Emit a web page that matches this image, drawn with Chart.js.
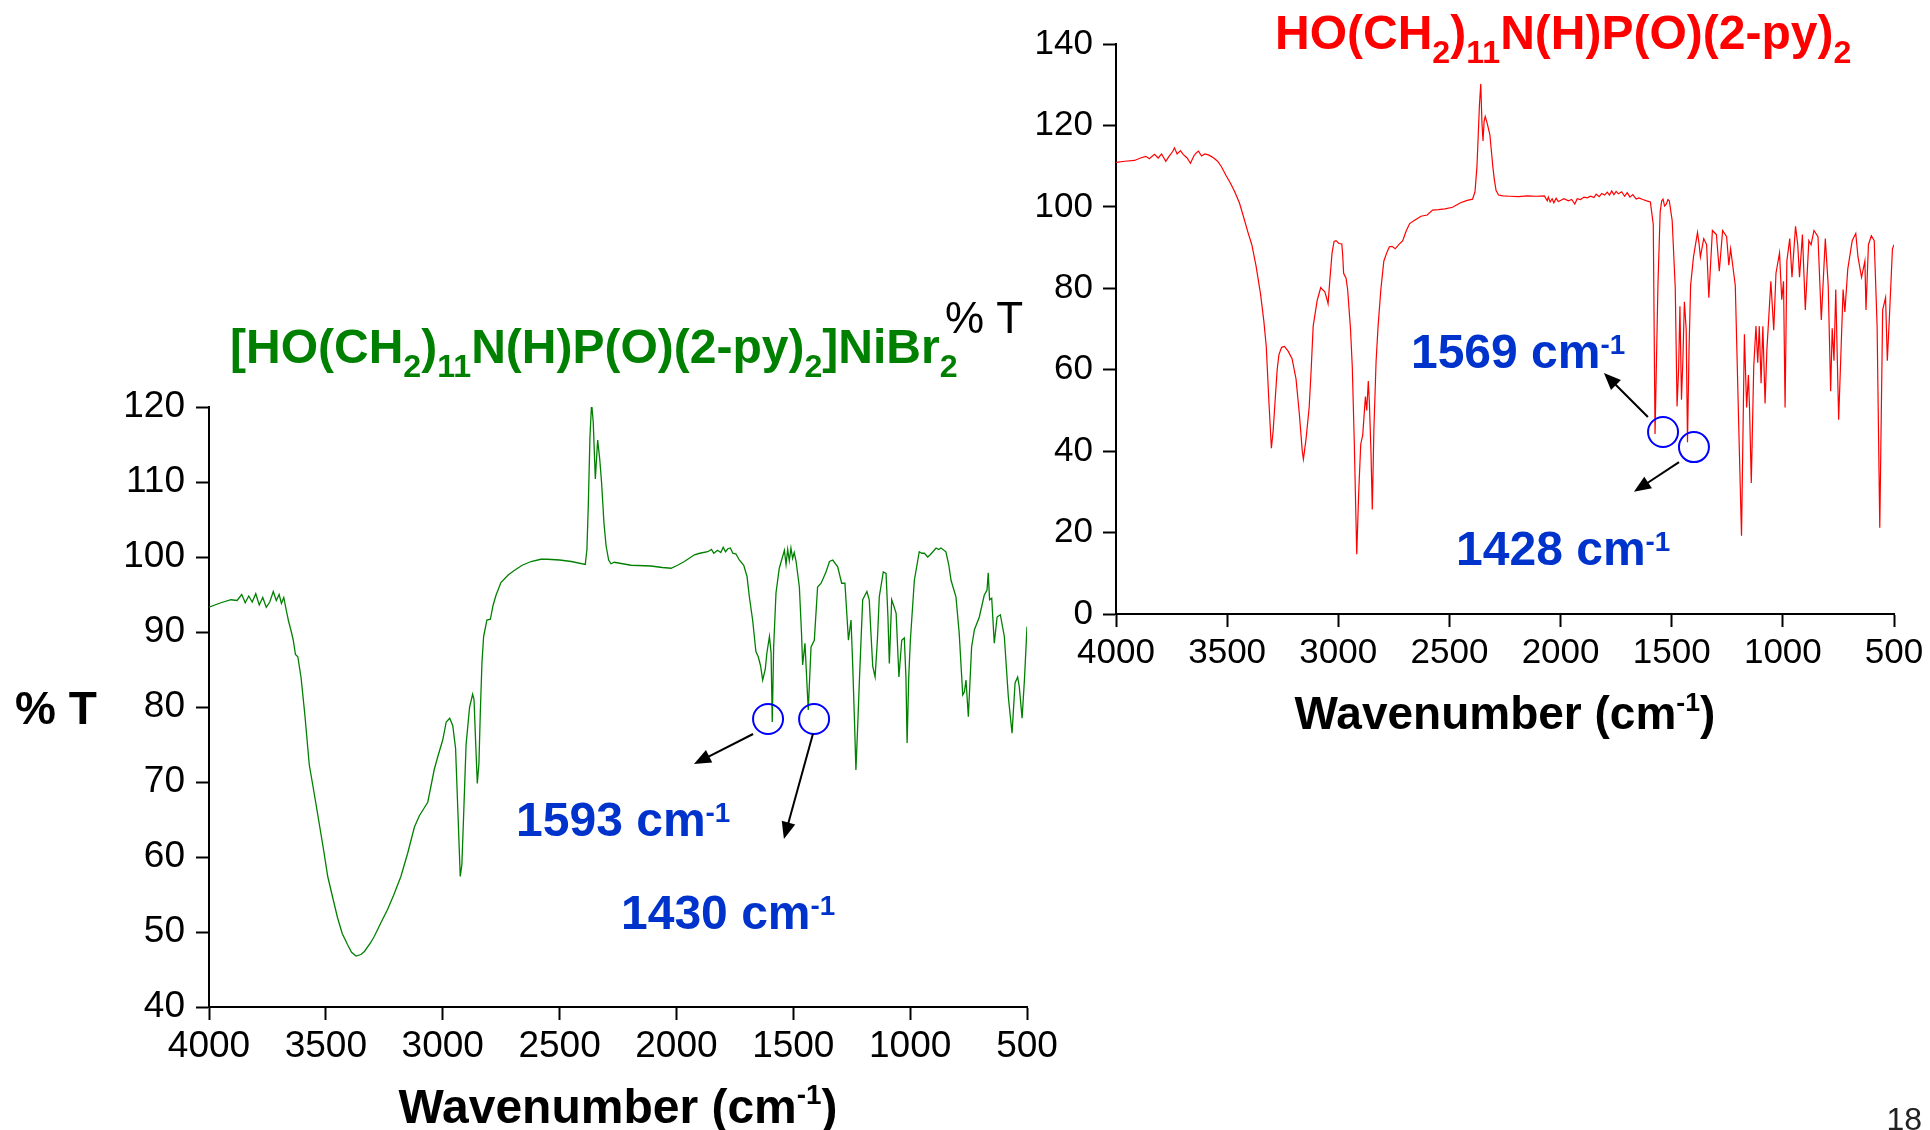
<!DOCTYPE html>
<html>
<head>
<meta charset="utf-8">
<script src="https://cdn.jsdelivr.net/npm/chart.js@4.4.0/dist/chart.umd.min.js"></script>
<style>
html, body { margin: 0; padding: 0; background: #fff; }
#wrap { position: relative; width: 1930px; height: 1130px; overflow: hidden; }
canvas { position: absolute; left: 0; top: 0; }
</style>
</head>
<body>
<div id="wrap">
<canvas id="complexChart" width="1930" height="1130"></canvas>
<canvas id="ligandChart" width="1930" height="1130"></canvas>
</div>
<script>
var FONT = '"Liberation Sans", Arial, sans-serif';

// tick values
var xTickValues = [4000, 3500, 3000, 2500, 2000, 1500, 1000, 500];
var complexYTicks = [40, 50, 60, 70, 80, 90, 100, 110, 120];
var ligandYTicks = [0, 20, 40, 60, 80, 100, 120, 140];

// [HO(CH2)11N(H)P(O)(2-py)2]NiBr2  -  [wavenumber, %T]
var complexSpectrum = [
  [4000, 93.3], [3949, 93.9], [3906, 94.3], [3880, 94.2], [3860, 95.0], [3845, 93.9],
  [3830, 94.8], [3815, 94.0], [3800, 95.1], [3785, 93.6], [3770, 94.6], [3755, 93.3],
  [3740, 94.0], [3725, 95.4], [3712, 94.2], [3700, 95.0], [3690, 93.8], [3680, 94.6],
  [3670, 93.0], [3660, 91.5], [3650, 90.3], [3640, 89.0], [3630, 87.0], [3620, 86.7],
  [3606, 83.9], [3590, 79.0], [3571, 72.3], [3550, 68.5], [3535, 65.7], [3510, 61.0],
  [3492, 57.4], [3470, 54.5], [3450, 51.9], [3430, 49.8], [3407, 48.3], [3390, 47.3],
  [3371, 46.8], [3350, 47.0], [3335, 47.4], [3310, 48.5], [3293, 49.4], [3265, 51.2],
  [3236, 53.0], [3210, 54.9], [3179, 57.4], [3150, 60.5], [3121, 64.0], [3100, 65.5],
  [3080, 66.5], [3064, 67.3], [3050, 69.5], [3036, 71.7], [3020, 73.5], [3000, 75.6],
  [2985, 78.0], [2970, 78.5], [2957, 77.5], [2945, 74.5], [2935, 66.0], [2925, 57.4],
  [2918, 59.0], [2910, 66.0], [2900, 75.0], [2885, 80.0], [2872, 81.7], [2866, 81.0],
  [2860, 76.0], [2852, 69.8], [2845, 72.5], [2839, 79.4], [2832, 86.0], [2825, 89.4],
  [2811, 91.6], [2796, 91.7], [2785, 93.5], [2772, 94.9], [2751, 96.6], [2720, 97.6],
  [2694, 98.2], [2660, 98.9], [2622, 99.4], [2580, 99.7], [2551, 99.7], [2500, 99.6],
  [2450, 99.4], [2390, 99.0], [2383, 101.0], [2377, 107.0], [2370, 116.0], [2363, 120.5],
  [2356, 118.0], [2347, 110.4], [2337, 115.6], [2328, 113.0], [2320, 109.8], [2310, 104.5],
  [2301, 101.5], [2290, 99.6], [2280, 99.1], [2266, 99.3], [2194, 98.9], [2109, 98.8],
  [2060, 98.6], [2023, 98.5], [1995, 98.9], [1966, 99.4], [1923, 100.3], [1900, 100.5],
  [1866, 100.7], [1850, 101.0], [1840, 100.5], [1824, 100.9], [1810, 100.6], [1800, 101.3],
  [1790, 100.7], [1780, 101.1], [1769, 101.2], [1759, 100.5], [1745, 100.4], [1731, 99.6],
  [1712, 98.9], [1698, 97.4], [1688, 94.7], [1674, 91.6], [1660, 87.4], [1650, 86.7],
  [1640, 85.5], [1631, 83.6], [1620, 85.0], [1613, 87.2], [1602, 89.4], [1595, 87.2],
  [1590, 78.0], [1584, 88.0], [1574, 95.2], [1560, 98.5], [1548, 99.8], [1538, 100.9],
  [1531, 99.0], [1524, 101.0], [1517, 99.5], [1510, 101.2], [1503, 99.8], [1496, 100.6],
  [1488, 99.4], [1474, 96.0], [1465, 90.0], [1460, 85.6], [1450, 88.5], [1436, 79.6],
  [1424, 88.0], [1410, 88.9], [1396, 96.0], [1381, 96.5], [1360, 98.0], [1345, 99.4],
  [1331, 99.6], [1310, 98.7], [1293, 96.5], [1279, 96.5], [1264, 88.9], [1253, 91.6],
  [1246, 85.8], [1238, 78.0], [1232, 71.6], [1225, 77.0], [1217, 83.6], [1210, 89.0],
  [1203, 94.3], [1185, 95.4], [1175, 94.3], [1168, 90.0], [1160, 85.4], [1150, 84.0],
  [1140, 89.0], [1132, 94.7], [1115, 98.0], [1103, 97.8], [1095, 92.0], [1089, 85.8],
  [1079, 94.3], [1070, 93.5], [1060, 92.5], [1048, 84.0], [1036, 88.9], [1025, 89.2],
  [1018, 84.0], [1013, 75.2], [1006, 84.0], [999, 88.9], [982, 96.9], [961, 100.7],
  [950, 100.5], [939, 100.5], [925, 100.0], [914, 100.3], [900, 100.8], [889, 101.2],
  [878, 101.0], [868, 101.2], [847, 100.7], [835, 99.0], [825, 96.9], [804, 94.7],
  [790, 89.8], [775, 81.6], [768, 82.0], [761, 83.6], [751, 78.7], [737, 88.0],
  [725, 90.3], [704, 92.0], [683, 94.9], [671, 95.6], [666, 97.9], [660, 94.3],
  [651, 94.5], [640, 88.5], [628, 92.0], [614, 92.3], [597, 89.4], [580, 81.4],
  [564, 76.5], [551, 83.2], [540, 84.0], [533, 82.7], [521, 78.5], [511, 83.6],
  [500, 90.7]
];

// HO(CH2)11N(H)P(O)(2-py)2  -  [wavenumber, %T]
var ligandSpectrum = [
  [4000, 110.9], [3960, 111.2], [3917, 111.4], [3890, 112.0], [3866, 112.4], [3850, 111.8],
  [3827, 112.9], [3810, 112.0], [3795, 113.0], [3776, 111.2], [3760, 112.5], [3745, 113.6],
  [3737, 114.5], [3725, 113.0], [3710, 113.8], [3698, 112.9], [3680, 112.0], [3665, 110.7],
  [3650, 112.5], [3640, 113.2], [3629, 113.7], [3615, 112.5], [3600, 113.0], [3582, 112.7],
  [3560, 112.0], [3543, 111.2], [3525, 109.8], [3505, 107.7], [3485, 105.8], [3466, 103.7],
  [3445, 101.0], [3427, 97.7], [3405, 93.5], [3389, 90.7], [3370, 85.5], [3350, 78.7],
  [3335, 72.0], [3324, 65.7], [3312, 52.0], [3301, 40.7], [3293, 45.0], [3285, 51.7],
  [3275, 60.0], [3267, 63.7], [3255, 65.5], [3242, 65.7], [3225, 64.5], [3208, 62.7],
  [3190, 57.7], [3175, 49.0], [3162, 40.0], [3157, 38.0], [3145, 43.0], [3131, 50.7],
  [3122, 60.0], [3113, 70.7], [3095, 77.0], [3079, 80.2], [3068, 79.5], [3061, 79.2],
  [3052, 77.5], [3046, 76.2], [3038, 82.0], [3028, 88.7], [3019, 91.5], [3010, 91.7],
  [2997, 91.0], [2984, 90.9], [2980, 88.0], [2976, 83.7], [2965, 82.5], [2958, 79.7],
  [2945, 70.0], [2937, 60.7], [2928, 42.0], [2917, 14.7], [2908, 30.0], [2899, 41.7],
  [2890, 44.0], [2878, 53.4], [2872, 50.0], [2865, 57.2], [2860, 51.7], [2853, 40.0],
  [2847, 25.7], [2840, 45.0], [2830, 62.0], [2821, 70.7], [2808, 80.0], [2795, 86.7],
  [2780, 89.0], [2770, 90.2], [2758, 90.3], [2744, 89.7], [2730, 90.6], [2710, 91.7],
  [2695, 94.0], [2679, 95.9], [2655, 96.8], [2628, 97.7], [2600, 98.0], [2576, 99.2],
  [2550, 99.3], [2520, 99.5], [2486, 99.9], [2450, 101.0], [2420, 101.6], [2396, 101.9],
  [2385, 103.7], [2376, 110.0], [2365, 125.0], [2359, 130.2], [2354, 121.0], [2349, 116.2],
  [2344, 121.0], [2339, 122.2], [2330, 120.5], [2318, 117.7], [2305, 110.0], [2298, 106.7],
  [2290, 104.0], [2279, 102.9], [2260, 102.7], [2230, 102.6], [2189, 102.5], [2150, 102.7],
  [2110, 102.6], [2073, 102.7], [2060, 101.5], [2055, 102.4], [2047, 101.2], [2038, 102.0],
  [2030, 101.0], [2020, 102.1], [2010, 101.3], [1996, 101.7], [1985, 102.0], [1965, 101.5],
  [1950, 101.8], [1936, 100.7], [1925, 102.0], [1910, 101.8], [1895, 102.4], [1880, 102.2],
  [1865, 102.6], [1850, 102.3], [1840, 103.1], [1826, 102.5], [1815, 103.3], [1802, 102.9],
  [1790, 103.6], [1780, 102.9], [1770, 103.9], [1760, 103.0], [1750, 103.8], [1740, 103.2],
  [1725, 103.7], [1712, 102.6], [1700, 103.5], [1688, 102.4], [1675, 103.0], [1660, 101.9],
  [1648, 102.2], [1630, 101.8], [1609, 101.4], [1596, 101.2], [1583, 95.7], [1575, 44.2],
  [1562, 80.7], [1552, 98.7], [1545, 101.5], [1539, 101.9], [1532, 100.2], [1524, 100.7],
  [1517, 101.8], [1511, 101.5], [1498, 96.7], [1484, 80.0], [1476, 51.0], [1469, 60.0],
  [1463, 75.6], [1456, 52.6], [1450, 62.0], [1443, 76.7], [1435, 70.0], [1429, 42.2],
  [1422, 65.0], [1415, 80.7], [1402, 87.7], [1384, 93.7], [1377, 91.0], [1371, 87.7],
  [1356, 92.2], [1343, 90.7], [1333, 77.7], [1317, 94.2], [1299, 93.2], [1286, 84.2],
  [1271, 94.2], [1253, 92.7], [1243, 85.7], [1235, 89.7], [1214, 80.7], [1196, 40.7],
  [1186, 19.2], [1173, 68.7], [1163, 50.7], [1155, 58.7], [1150, 50.7], [1142, 32.2],
  [1131, 60.7], [1121, 70.7], [1113, 61.7], [1106, 70.7], [1098, 56.7], [1090, 70.7],
  [1080, 51.7], [1072, 64.7], [1054, 81.7], [1041, 69.7], [1031, 83.7], [1015, 88.7],
  [1005, 77.2], [997, 81.7], [990, 50.7], [982, 86.7], [969, 92.2], [959, 82.7],
  [943, 95.2], [933, 90.7], [925, 82.7], [912, 93.2], [899, 74.7], [883, 91.7],
  [873, 90.7], [860, 94.2], [842, 92.7], [827, 72.2], [809, 92.2], [796, 80.7],
  [785, 54.7], [778, 70.2], [770, 62.2], [762, 79.7], [749, 47.7], [739, 63.7],
  [729, 79.7], [721, 74.2], [708, 84.7], [688, 91.7], [672, 93.5], [662, 87.7],
  [646, 82.7], [631, 86.7], [626, 74.7], [615, 90.7], [602, 92.9], [589, 91.7],
  [576, 70.7], [564, 21.2], [551, 74.7], [538, 77.7], [530, 62.2], [520, 73.7],
  [507, 89.7], [500, 90.7]
];

// peak labels
var complexPeaks = ['1593', '1430'];
var ligandPeaks = ['1569', '1428'];

// draw text made of normal / sub / sup parts
function drawParts(ctx, parts, x, y, size, bold, color, align, supRise) {
  var rise = supRise || 0.29;
  var w = 0;
  parts.forEach(function (p) {
    var s = p[1] ? size * (p[1] === 'sub' ? 0.67 : 0.58) : size;
    ctx.font = (bold ? 'bold ' : '') + s + 'px ' + FONT;
    w += ctx.measureText(p[0]).width;
  });
  if (align === 'center') x -= w / 2;
  ctx.fillStyle = color;
  ctx.textAlign = 'left';
  ctx.textBaseline = 'alphabetic';
  parts.forEach(function (p) {
    var s = size, dy = 0;
    if (p[1] === 'sub') { s = size * 0.67; dy = size * 0.3; }
    if (p[1] === 'sup') { s = size * 0.58; dy = -size * rise; }
    ctx.font = (bold ? 'bold ' : '') + s + 'px ' + FONT;
    ctx.fillText(p[0], x, y + dy);
    x += ctx.measureText(p[0]).width;
  });
}

function drawArrow(ctx, x0, y0, x1, y1) {
  var a = Math.atan2(y1 - y0, x1 - x0);
  ctx.strokeStyle = '#000';
  ctx.fillStyle = '#000';
  ctx.lineWidth = 2;
  ctx.beginPath();
  ctx.moveTo(x0, y0);
  ctx.lineTo(x1 - 12 * Math.cos(a), y1 - 12 * Math.sin(a));
  ctx.stroke();
  ctx.beginPath();
  ctx.moveTo(x1, y1);
  ctx.lineTo(x1 - 17 * Math.cos(a) + 7 * Math.sin(a), y1 - 17 * Math.sin(a) - 7 * Math.cos(a));
  ctx.lineTo(x1 - 17 * Math.cos(a) - 7 * Math.sin(a), y1 - 17 * Math.sin(a) + 7 * Math.cos(a));
  ctx.closePath();
  ctx.fill();
}

// annotations: titles, axis titles, circles, arrows, peak labels
var irNotes = {
  id: 'irNotes',
  afterDraw: function (chart, args, o) {
    var ctx = chart.ctx, xs = chart.scales.x, ys = chart.scales.y, ca = chart.chartArea;
    var px = function (v) { return xs.getPixelForValue(v); };
    var py = function (v) { return ys.getPixelForValue(v); };
    ctx.save();
    drawParts(ctx, o.title, o.titlePos[0], o.titlePos[1], 48, true, o.titleColor, 'left');
    drawParts(ctx, [['% T', '']], o.yTitlePos[0], o.yTitlePos[1], o.yTitleSize, o.yTitleBold, '#000', 'left');
    drawParts(ctx, [['Wavenumber (cm', ''], ['-1', 'sup'], [')', '']],
      (ca.left + ca.right) / 2, o.xTitleY, o.xTitleSize, true, '#000', 'center', 0.4);
    o.circles.forEach(function (c) {
      ctx.strokeStyle = '#0000ff';
      ctx.lineWidth = 2;
      ctx.beginPath();
      ctx.arc(px(c[0]), py(c[1]), 15, 0, Math.PI * 2);
      ctx.stroke();
    });
    o.arrows.forEach(function (a) {
      drawArrow(ctx, px(a[0]), py(a[1]), px(a[2]), py(a[3]));
    });
    o.labels.forEach(function (l, i) {
      drawParts(ctx, [[o.peaks[i] + ' cm', ''], ['-1', 'sup']], px(l[0]), py(l[1]), 48, true, '#0033cc', 'left');
    });
    if (o.page) {
      ctx.font = '32px ' + FONT;
      ctx.fillStyle = '#222';
      ctx.textAlign = 'right';
      ctx.fillText(o.page, 1922, 1130);
    }
    ctx.restore();
  }
};

function makeScales(yMin, yMax, yTicks, yWidth, tickSize, xPad, yPad) {
  var grid = { display: true, drawOnChartArea: false, drawTicks: true, tickLength: 13, tickWidth: 2, tickColor: '#000', color: '#000' };
  return {
    x: {
      type: 'linear', reverse: true, min: 500, max: 4000,
      afterBuildTicks: function (s) { s.ticks = xTickValues.map(function (v) { return { value: v }; }); },
      afterFit: function (s) { s.height = 60; },
      ticks: { font: { family: FONT, size: tickSize }, color: '#000', padding: xPad, maxRotation: 0, autoSkip: false,
        callback: function (v) { return String(v); } },
      grid: grid,
      border: { display: true, color: '#000', width: 2 }
    },
    y: {
      min: yMin, max: yMax,
      afterBuildTicks: function (s) { s.ticks = yTicks.map(function (v) { return { value: v }; }); },
      afterFit: function (s) { s.width = yWidth; },
      ticks: { font: { family: FONT, size: tickSize }, color: '#000', padding: yPad, autoSkip: false,
        callback: function (v) { return String(v); } },
      grid: grid,
      border: { display: true, color: '#000', width: 2 }
    }
  };
}

// left chart: nickel complex
var complexChart = new Chart(document.getElementById('complexChart'), {
  type: 'line',
  data: {
    datasets: [{
      data: complexSpectrum.map(function (p) { return { x: p[0], y: p[1] }; }),
      borderColor: '#008000', borderWidth: 1.3, pointRadius: 0, tension: 0, fill: false
    }]
  },
  options: {
    responsive: false, animation: false, devicePixelRatio: 1,
    layout: { padding: { left: 0, top: 407, right: 903, bottom: 63 } },
    scales: makeScales(40, 120, complexYTicks, 209, 37, 5, 11),
    plugins: {
      legend: { display: false }, tooltip: { enabled: false },
      irNotes: {
        title: [['[HO(CH', ''], ['2', 'sub'], [')', ''], ['11', 'sub'], ['N(H)P(O)(2-py)', ''], ['2', 'sub'], [']NiBr', ''], ['2', 'sub']],
        titlePos: [230, 363], titleColor: '#008000',
        yTitlePos: [15, 724], yTitleSize: 46, yTitleBold: true,
        xTitleY: 1123, xTitleSize: 48,
        peaks: complexPeaks,
        circles: [[1608, 78.4], [1411, 78.4]],
        arrows: [[1672, 76.4, 1925, 72.4], [1416, 76.4, 1540, 62.4]],
        labels: [[2686, 62.8], [2237, 50.4]],
        page: '18'
      }
    }
  },
  plugins: [irNotes]
});

// right chart: free ligand
var ligandChart = new Chart(document.getElementById('ligandChart'), {
  type: 'line',
  data: {
    datasets: [{
      data: ligandSpectrum.map(function (p) { return { x: p[0], y: p[1] }; }),
      borderColor: '#ff0000', borderWidth: 1.2, pointRadius: 0, tension: 0, fill: false
    }]
  },
  options: {
    responsive: false, animation: false, devicePixelRatio: 1,
    layout: { padding: { left: 0, top: 44, right: 36, bottom: 456 } },
    scales: makeScales(0, 140, ligandYTicks, 1116, 35, 5, 10),
    plugins: {
      legend: { display: false }, tooltip: { enabled: false },
      irNotes: {
        title: [['HO(CH', ''], ['2', 'sub'], [')', ''], ['11', 'sub'], ['N(H)P(O)(2-py)', ''], ['2', 'sub']],
        titlePos: [1275, 49], titleColor: '#ff0000',
        yTitlePos: [945, 333], yTitleSize: 44, yTitleBold: false,
        xTitleY: 729, xTitleSize: 46,
        peaks: ligandPeaks,
        circles: [[1539, 44.7], [1400, 41.0]],
        arrows: [[1607, 48.4, 1805, 59.2], [1467, 37.3, 1670, 30.0]],
        labels: [[2673, 60.4], [2470, 12.0]],
        page: ''
      }
    }
  },
  plugins: [irNotes]
});
</script>
</body>
</html>
